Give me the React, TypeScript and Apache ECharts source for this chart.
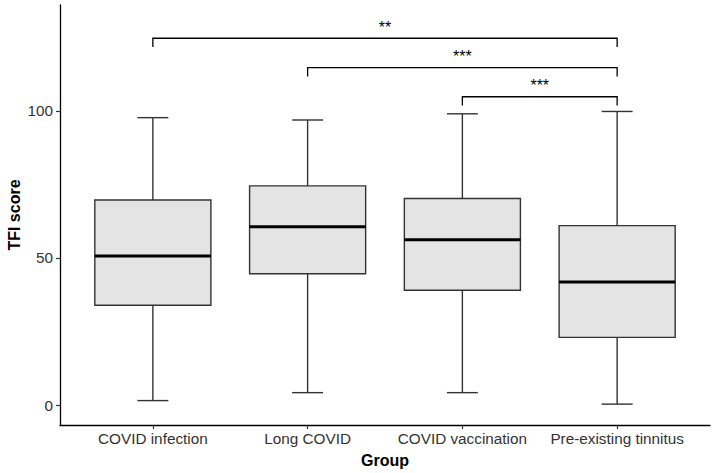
import React, { useEffect, useRef } from "react";
import * as echarts from "echarts";

const categories = ["COVID infection", "Long COVID", "COVID vaccination", "Pre-existing tinnitus"];
const whiskerLow = [1.5, 4.2, 4.2, 0.3];
const q1 = [33.9, 44.6, 39.0, 23.0];
const median = [50.7, 60.6, 56.2, 41.8];
const q3 = [69.7, 74.5, 70.2, 61.0];
const whiskerHigh = [97.7, 96.9, 99.0, 99.8];

const bracketFrom = [0, 1, 2];
const bracketTo = [3, 3, 3];
const bracketY = [124.7, 114.7, 104.8];
const bracketLabels = ["**", "***", "***"];
const bracketDrop = 3;

const yTicks = [0, 50, 100];
const xTicks = [0, 1, 2, 3];

const FONT = "'Liberation Sans', Arial, Helvetica, sans-serif";

export default function App() {
  const ref = useRef<HTMLDivElement>(null);
  useEffect(() => {
    if (!ref.current) return;
    const chart = echarts.init(ref.current, null, { renderer: "svg" });
    const boxData = categories.map((_, i) => [i, whiskerLow[i], q1[i], median[i], q3[i], whiskerHigh[i]]);
    const bracketData = bracketFrom.map((f, i) => [f, bracketTo[i], bracketY[i], bracketY[i] - bracketDrop]);
    const lineStroke = "#333333";
    chart.setOption({
      animation: false,
      grid: { left: 60, right: 5, top: 5, bottom: 48, containLabel: false, outerBoundsMode: "none" },
      xAxis: {
        type: "value",
        min: -0.6,
        max: 3.6,
        splitLine: { show: false },
        axisLine: { show: true, onZero: false, lineStyle: { color: "#000", width: 1.3 } },
        axisTick: { show: true, length: 4, customValues: xTicks, lineStyle: { color: "#333", width: 1.2 } },
        axisLabel: {
          customValues: xTicks,
          formatter: (v: number) => categories[Math.round(v)] ?? "",
          fontSize: 15.3,
          color: "#333",
          fontFamily: FONT,
          margin: 6,
        },
        name: "Group",
        nameLocation: "middle",
        nameGap: 27,
        nameMoveOverlap: false,
        nameTextStyle: { fontSize: 16, fontWeight: "bold", color: "#000", fontFamily: FONT },
      },
      yAxis: {
        type: "value",
        min: -6.8,
        max: 136,
        splitLine: { show: false },
        axisLine: { show: true, onZero: false, lineStyle: { color: "#000", width: 1.3 } },
        axisTick: { show: true, length: 4, customValues: yTicks, lineStyle: { color: "#333", width: 1.2 } },
        axisLabel: {
          customValues: yTicks,
          fontSize: 15.3,
          color: "#333",
          fontFamily: FONT,
          margin: 7,
        },
        name: "TFI score",
        nameLocation: "middle",
        nameGap: 38,
        nameRotate: 90,
        nameMoveOverlap: false,
        nameTextStyle: { fontSize: 16, fontWeight: "bold", color: "#000", fontFamily: FONT },
      },
      series: [
        {
          type: "custom",
          data: boxData,
          encode: { x: 0, y: [1, 2, 3, 4, 5] },
          clip: false,
          renderItem: (params: any, api: any) => {
            const i = api.value(0);
            const band = api.size([1, 0])[0];
            const boxW = band * 0.75;
            const capW = band * 0.2;
            const pMin = api.coord([i, api.value(1)]);
            const pQ1 = api.coord([i, api.value(2)]);
            const pMed = api.coord([i, api.value(3)]);
            const pQ3 = api.coord([i, api.value(4)]);
            const pMax = api.coord([i, api.value(5)]);
            const cx = pMin[0];
            const ls = { stroke: lineStroke, lineWidth: 1.4 };
            return {
              type: "group",
              children: [
                { type: "line", shape: { x1: cx, y1: pQ3[1], x2: cx, y2: pMax[1] }, style: ls },
                { type: "line", shape: { x1: cx, y1: pQ1[1], x2: cx, y2: pMin[1] }, style: ls },
                { type: "line", shape: { x1: cx - capW / 2, y1: pMax[1], x2: cx + capW / 2, y2: pMax[1] }, style: ls },
                { type: "line", shape: { x1: cx - capW / 2, y1: pMin[1], x2: cx + capW / 2, y2: pMin[1] }, style: ls },
                {
                  type: "rect",
                  shape: { x: cx - boxW / 2, y: pQ3[1], width: boxW, height: pQ1[1] - pQ3[1] },
                  style: { fill: "#E4E4E4", stroke: lineStroke, lineWidth: 1.4 },
                },
                {
                  type: "line",
                  shape: { x1: cx - boxW / 2, y1: pMed[1], x2: cx + boxW / 2, y2: pMed[1] },
                  style: { stroke: "#000", lineWidth: 3 },
                },
              ],
            };
          },
        },
        {
          type: "custom",
          data: bracketData,
          encode: { x: [0, 1], y: [2, 3] },
          clip: false,
          renderItem: (params: any, api: any) => {
            const a = api.coord([api.value(0), api.value(2)]);
            const b = api.coord([api.value(1), api.value(2)]);
            const aBot = api.coord([api.value(0), api.value(3)]);
            const ls = { stroke: "#000", lineWidth: 1.3, fill: "none" };
            return {
              type: "group",
              children: [
                {
                  type: "polyline",
                  shape: { points: [[a[0], aBot[1]], [a[0], a[1]], [b[0], b[1]], [b[0], aBot[1]]] },
                  style: ls,
                },
                {
                  type: "text",
                  style: {
                    text: bracketLabels[params.dataIndex],
                    x: (a[0] + b[0]) / 2,
                    y: a[1] - 3,
                    align: "center",
                    verticalAlign: "bottom",
                    fontSize: 16,
                    fontFamily: FONT,
                    fill: "#000",
                  },
                },
              ],
            };
          },
        },
      ],
    });
    return () => chart.dispose();
  }, []);
  return <div ref={ref} style={{ width: 715, height: 473, position: "absolute", left: 0, top: 0 }} />;
}
